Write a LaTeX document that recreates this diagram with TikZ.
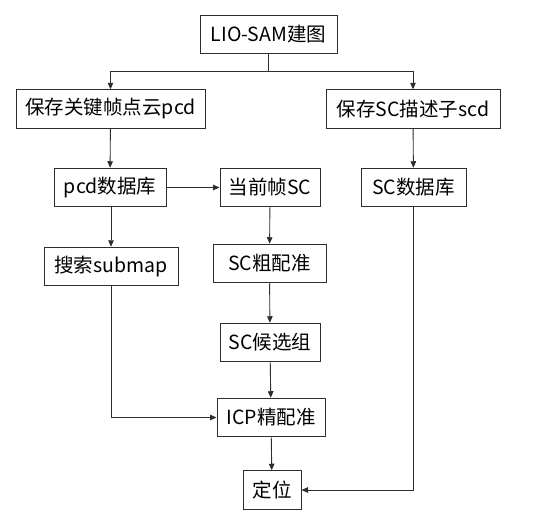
\documentclass[tikz,border=0pt]{standalone}
\usepackage{fontspec}
\newfontfamily\cjk{Noto Sans CJK SC}
\usepackage{tikz}
\usetikzlibrary{arrows.meta,positioning}
\definecolor{linegrey}{RGB}{45,45,45}

\begin{document}
\begin{tikzpicture}[x=1pt, y=-1pt,
    box/.style={rectangle, draw=linegrey, line width=1pt, inner sep=0pt,
        minimum height=38.5pt, font=\cjk\fontsize{19.5}{21}\selectfont},
    arr/.style={-{Triangle[length=6.5pt, width=5.5pt]}, draw=linegrey, line width=0.9pt}]
    \useasboundingbox (0,0) rectangle (541,525);
    % mapping part
    \node[box, minimum width=137pt] (map) at (268.5,34.5) {LIO-SAM建图};
    \node[box, minimum width=189pt] (savepcd) at (110.5,109) {保存关键帧点云pcd};
    \node[box, minimum width=174pt] (savescd) at (413,109) {保存SC描述子scd};
    \node[box, minimum width=112pt] (pcddb) at (110,187.5) {pcd数据库};
    \node[box, minimum width=100pt] (cursc) at (270,187.5) {当前帧SC};
    \node[box, minimum width=105pt] (scdb) at (413.5,187.5) {SC数据库};
    % localization part
    \node[box, minimum width=134pt] (submap) at (111,266.5) {搜索submap};
    \node[box, minimum width=113pt] (coarse) at (269.5,263.5) {SC粗配准};
    \node[box, minimum width=100pt] (cand) at (270,342.5) {SC候选组};
    \node[box, minimum width=108pt] (icp) at (271,417.5) {ICP精配准};
    \node[box, minimum width=58pt] (loc) at (272,490) {定位};

    \draw[arr] (map.south) -- ++(0,17) -| (savepcd.north);
    \draw[arr] (map.south) -- ++(0,17) -| (savescd.north);
    \draw[arr] (savepcd) -- (pcddb);
    \draw[arr] (savescd) -- (scdb);
    \draw[arr] (pcddb) -- (cursc);
    \draw[arr] (pcddb.south -| submap.north) -- (submap.north);
    \draw[arr] (cursc) -- (coarse);
    \draw[arr] (coarse) -- (cand);
    \draw[arr] (cand) -- (icp);
    \draw[arr] (icp) -- (loc);
    \draw[arr] (submap.south) |- (icp.west);
    \draw[arr] (scdb.south) |- (loc.east);
\end{tikzpicture}
\end{document}
